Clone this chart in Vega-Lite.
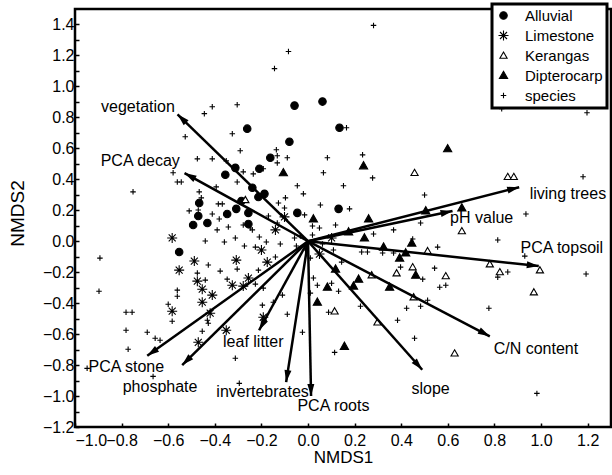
{
  "$schema": "https://vega.github.io/schema/vega-lite/v6.json",
  "width": 536,
  "height": 418,
  "autosize": {"type": "none"},
  "padding": {"left": 75, "top": 9, "right": 1, "bottom": 48},
  "config": {
    "view": {"stroke": "black", "strokeWidth": 2.5},
    "font": "Liberation Sans",
    "axis": {"domain": false, "grid": false, "tickColor": "black", "tickWidth": 1.5, "tickSize": -4, "labelFontSize": 16, "labelColor": "black", "titleFontSize": 17, "titleFontWeight": "normal", "titleColor": "black", "labelFont": "Liberation Sans", "titleFont": "Liberation Sans", "labelOverlap": false},
    "legend": {"orient": "none", "legendX": 417, "legendY": -5, "padding": 4, "strokeColor": "black", "strokeWidth": 3, "fillColor": "white", "labelFontSize": 15, "labelFont": "Liberation Sans", "labelColor": "black", "symbolStrokeColor": "black", "symbolStrokeWidth": 1.1, "rowPadding": 4, "labelOffset": 14, "symbolOpacity": 1, "symbolSize": 100}
  },
  "resolve": {"axis": {"y": "independent"}},
  "datasets": {
    "vec": [
      {"var": "vegetation", "x": -0.56, "y": 0.82, "lx": -0.73, "ly": 0.87},
      {"var": "PCA decay", "x": -0.53, "y": 0.44, "lx": -0.72, "ly": 0.52},
      {"var": "PCA stone", "x": -0.69, "y": -0.74, "lx": -0.78, "ly": -0.81},
      {"var": "phosphate", "x": -0.54, "y": -0.8, "lx": -0.635, "ly": -0.943},
      {"var": "leaf litter", "x": -0.21, "y": -0.575, "lx": -0.235, "ly": -0.651},
      {"var": "invertebrates", "x": -0.094, "y": -0.91, "lx": -0.195, "ly": -0.977},
      {"var": "PCA roots", "x": 0.013, "y": -1.0, "lx": 0.109, "ly": -1.066},
      {"var": "slope", "x": 0.49, "y": -0.83, "lx": 0.526, "ly": -0.957},
      {"var": "C/N content", "x": 0.78, "y": -0.614, "lx": 0.978, "ly": -0.693},
      {"var": "PCA topsoil", "x": 0.99, "y": -0.16, "lx": 1.089, "ly": -0.043},
      {"var": "living trees", "x": 0.906, "y": 0.349, "lx": 1.115, "ly": 0.308},
      {"var": "pH value", "x": 0.62, "y": 0.195, "lx": 0.745, "ly": 0.147}
    ],
    "pts": [
      {"t": "Alluvial", "x": -0.467, "y": 0.247}, {"t": "Alluvial", "x": -0.471, "y": 0.163}, {"t": "Alluvial", "x": -0.493, "y": 0.105}, {"t": "Alluvial", "x": -0.432, "y": 0.118}, {"t": "Alluvial", "x": -0.553, "y": -0.07}, {"t": "Alluvial", "x": -0.08, "y": 0.643}, {"t": "Alluvial", "x": -0.058, "y": 0.876}, {"t": "Alluvial", "x": 0.062, "y": 0.902}, {"t": "Alluvial", "x": -0.261, "y": 0.727}, {"t": "Alluvial", "x": 0.135, "y": 0.733}, {"t": "Alluvial", "x": -0.162, "y": 0.539}, {"t": "Alluvial", "x": -0.312, "y": 0.474}, {"t": "Alluvial", "x": -0.209, "y": 0.468}, {"t": "Alluvial", "x": -0.355, "y": 0.429}, {"t": "Alluvial", "x": -0.239, "y": 0.345}, {"t": "Alluvial", "x": -0.187, "y": 0.306}, {"t": "Alluvial", "x": -0.213, "y": 0.286}, {"t": "Alluvial", "x": -0.286, "y": 0.26}, {"t": "Alluvial", "x": -0.308, "y": 0.209}, {"t": "Alluvial", "x": -0.347, "y": 0.176}, {"t": "Alluvial", "x": -0.256, "y": 0.183}, {"t": "Alluvial", "x": -0.046, "y": 0.183}, {"t": "Alluvial", "x": -0.256, "y": 0.111}, {"t": "Alluvial", "x": 0.131, "y": 0.209},
      {"t": "Limestone", "x": -0.583, "y": 0.021}, {"t": "Limestone", "x": -0.488, "y": -0.128}, {"t": "Limestone", "x": -0.553, "y": -0.187}, {"t": "Limestone", "x": -0.475, "y": -0.258}, {"t": "Limestone", "x": -0.454, "y": -0.31}, {"t": "Limestone", "x": -0.454, "y": -0.394}, {"t": "Limestone", "x": -0.583, "y": -0.452}, {"t": "Limestone", "x": -0.471, "y": -0.653}, {"t": "Limestone", "x": -0.101, "y": 0.157}, {"t": "Limestone", "x": -0.14, "y": 0.073}, {"t": "Limestone", "x": -0.2, "y": -0.057}, {"t": "Limestone", "x": -0.308, "y": -0.122}, {"t": "Limestone", "x": -0.175, "y": -0.135}, {"t": "Limestone", "x": -0.256, "y": -0.238}, {"t": "Limestone", "x": -0.325, "y": -0.284}, {"t": "Limestone", "x": -0.278, "y": -0.29}, {"t": "Limestone", "x": -0.411, "y": -0.348}, {"t": "Limestone", "x": -0.42, "y": -0.465}, {"t": "Limestone", "x": -0.192, "y": -0.491}, {"t": "Limestone", "x": -0.351, "y": -0.575}, {"t": "Limestone", "x": 0.101, "y": 0.021}, {"t": "Limestone", "x": 0.049, "y": -0.083},
      {"t": "Kerangas", "x": -0.269, "y": 0.267}, {"t": "Kerangas", "x": 0.457, "y": 0.442}, {"t": "Kerangas", "x": 0.857, "y": 0.416}, {"t": "Kerangas", "x": 0.883, "y": 0.416}, {"t": "Kerangas", "x": 0.66, "y": 0.066}, {"t": "Kerangas", "x": 0.513, "y": -0.063}, {"t": "Kerangas", "x": 0.449, "y": -0.167}, {"t": "Kerangas", "x": 0.38, "y": -0.206}, {"t": "Kerangas", "x": 0.273, "y": -0.219}, {"t": "Kerangas", "x": 0.591, "y": -0.225}, {"t": "Kerangas", "x": 0.78, "y": -0.148}, {"t": "Kerangas", "x": 0.823, "y": -0.199}, {"t": "Kerangas", "x": 0.995, "y": -0.187}, {"t": "Kerangas", "x": 0.969, "y": -0.329}, {"t": "Kerangas", "x": 0.453, "y": -0.361}, {"t": "Kerangas", "x": 0.114, "y": -0.452}, {"t": "Kerangas", "x": 0.298, "y": -0.523}, {"t": "Kerangas", "x": 0.629, "y": -0.724},
      {"t": "Dipterocarp", "x": -0.106, "y": 0.442}, {"t": "Dipterocarp", "x": 0.238, "y": 0.487}, {"t": "Dipterocarp", "x": 0.023, "y": 0.144}, {"t": "Dipterocarp", "x": 0.26, "y": 0.144}, {"t": "Dipterocarp", "x": 0.599, "y": 0.597}, {"t": "Dipterocarp", "x": 0.66, "y": 0.215}, {"t": "Dipterocarp", "x": 0.505, "y": 0.196}, {"t": "Dipterocarp", "x": 0.174, "y": 0.06}, {"t": "Dipterocarp", "x": 0.242, "y": 0.021}, {"t": "Dipterocarp", "x": 0.445, "y": -0.012}, {"t": "Dipterocarp", "x": 0.419, "y": -0.076}, {"t": "Dipterocarp", "x": 0.324, "y": -0.038}, {"t": "Dipterocarp", "x": 0.393, "y": -0.109}, {"t": "Dipterocarp", "x": 0.462, "y": -0.219}, {"t": "Dipterocarp", "x": 0.118, "y": -0.18}, {"t": "Dipterocarp", "x": 0.217, "y": -0.245}, {"t": "Dipterocarp", "x": 0.195, "y": -0.29}, {"t": "Dipterocarp", "x": 0.35, "y": -0.297}, {"t": "Dipterocarp", "x": 0.083, "y": -0.297}, {"t": "Dipterocarp", "x": 0.04, "y": -0.394}, {"t": "Dipterocarp", "x": 0.156, "y": -0.679},
      {"t": "species", "x": 0.281, "y": 1.394}, {"t": "species", "x": -0.084, "y": 1.225}, {"t": "species", "x": -0.144, "y": 1.115}, {"t": "species", "x": -0.411, "y": 0.869}, {"t": "species", "x": -0.304, "y": 0.882}, {"t": "species", "x": -0.445, "y": 0.824}, {"t": "species", "x": 0.165, "y": 0.733}, {"t": "species", "x": -0.325, "y": 0.694}, {"t": "species", "x": -0.527, "y": 0.675}, {"t": "species", "x": -0.291, "y": 0.584}, {"t": "species", "x": -0.136, "y": 0.591}, {"t": "species", "x": -0.132, "y": 0.552}, {"t": "species", "x": -0.132, "y": 0.506}, {"t": "species", "x": -0.089, "y": 0.539}, {"t": "species", "x": -0.475, "y": 0.532}, {"t": "species", "x": -0.411, "y": 0.532}, {"t": "species", "x": -0.351, "y": 0.519}, {"t": "species", "x": 0.083, "y": 0.539}, {"t": "species", "x": 0.234, "y": 0.558}, {"t": "species", "x": -0.192, "y": 0.468}, {"t": "species", "x": -0.278, "y": 0.448}, {"t": "species", "x": -0.235, "y": 0.435}, {"t": "species", "x": -0.579, "y": 0.442}, {"t": "species", "x": -0.561, "y": 0.383}, {"t": "species", "x": -0.544, "y": 0.383}, {"t": "species", "x": -0.751, "y": 0.319}, {"t": "species", "x": -0.467, "y": 0.319}, {"t": "species", "x": -0.458, "y": 0.28}, {"t": "species", "x": -0.51, "y": 0.196}, {"t": "species", "x": -0.471, "y": 0.202}, {"t": "species", "x": -0.441, "y": 0.001}, {"t": "species", "x": 0.066, "y": 0.442}, {"t": "species", "x": 0.277, "y": 0.409}, {"t": "species", "x": -0.304, "y": 0.383}, {"t": "species", "x": -0.046, "y": 0.358}, {"t": "species", "x": -0.394, "y": 0.351}, {"t": "species", "x": 0.152, "y": 0.358}, {"t": "species", "x": -0.02, "y": 0.306}, {"t": "species", "x": -0.097, "y": 0.28}, {"t": "species", "x": -0.385, "y": 0.241}, {"t": "species", "x": -0.368, "y": 0.241}, {"t": "species", "x": -0.127, "y": 0.247}, {"t": "species", "x": -0.101, "y": 0.215}, {"t": "species", "x": 0.053, "y": 0.234}, {"t": "species", "x": 0.178, "y": 0.209}, {"t": "species", "x": -0.411, "y": 0.176}, {"t": "species", "x": -0.17, "y": 0.163}, {"t": "species", "x": -0.015, "y": 0.17}, {"t": "species", "x": -0.381, "y": 0.144}, {"t": "species", "x": -0.278, "y": 0.105}, {"t": "species", "x": -0.248, "y": 0.085}, {"t": "species", "x": -0.132, "y": 0.118}, {"t": "species", "x": -0.342, "y": 0.092}, {"t": "species", "x": -0.239, "y": 0.073}, {"t": "species", "x": 0.019, "y": 0.098}, {"t": "species", "x": -0.39, "y": 0.073}, {"t": "species", "x": -0.209, "y": 0.027}, {"t": "species", "x": -0.312, "y": 0.021}, {"t": "species", "x": -0.058, "y": 0.021}, {"t": "species", "x": -0.359, "y": -0.005}, {"t": "species", "x": -0.179, "y": -0.005}, {"t": "species", "x": -0.119, "y": -0.018}, {"t": "species", "x": -0.273, "y": -0.031}, {"t": "species", "x": -0.226, "y": -0.038}, {"t": "species", "x": 0.118, "y": 0.105}, {"t": "species", "x": 0.049, "y": 0.085}, {"t": "species", "x": 0.367, "y": 0.073}, {"t": "species", "x": 0.019, "y": 0.04}, {"t": "species", "x": 0.281, "y": 0.047}, {"t": "species", "x": 0.449, "y": 0.014}, {"t": "species", "x": 0.556, "y": -0.038}, {"t": "species", "x": 0.23, "y": -0.07}, {"t": "species", "x": 0.255, "y": -0.07}, {"t": "species", "x": 0.32, "y": -0.076}, {"t": "species", "x": 0.367, "y": -0.076}, {"t": "species", "x": 0.397, "y": -0.167}, {"t": "species", "x": 0.543, "y": -0.174}, {"t": "species", "x": 0.492, "y": -0.245}, {"t": "species", "x": 0.565, "y": -0.297}, {"t": "species", "x": 0.591, "y": -0.284}, {"t": "species", "x": 0.144, "y": -0.135}, {"t": "species", "x": 0.04, "y": -0.284}, {"t": "species", "x": 0.101, "y": -0.271}, {"t": "species", "x": 0.023, "y": -0.238}, {"t": "species", "x": 0.131, "y": -0.323}, {"t": "species", "x": 0.513, "y": -0.381}, {"t": "species", "x": 0.483, "y": -0.42}, {"t": "species", "x": 0.423, "y": -0.433}, {"t": "species", "x": 0.088, "y": -0.459}, {"t": "species", "x": 0.225, "y": -0.42}, {"t": "species", "x": 0.384, "y": -0.51}, {"t": "species", "x": 0.457, "y": -0.627}, {"t": "species", "x": 0.01, "y": -0.335}, {"t": "species", "x": 0.5, "y": 0.299}, {"t": "species", "x": 0.483, "y": 0.118}, {"t": "species", "x": 0.831, "y": 0.856}, {"t": "species", "x": 1.197, "y": 0.83}, {"t": "species", "x": 1.18, "y": 0.416}, {"t": "species", "x": 0.935, "y": 0.176}, {"t": "species", "x": 0.814, "y": 0.008}, {"t": "species", "x": 0.93, "y": -0.096}, {"t": "species", "x": 0.857, "y": -0.199}, {"t": "species", "x": 0.814, "y": -0.232}, {"t": "species", "x": 1.193, "y": -0.212}, {"t": "species", "x": 0.776, "y": -0.433}, {"t": "species", "x": 0.982, "y": -0.983}, {"t": "species", "x": -0.893, "y": -0.109}, {"t": "species", "x": -0.428, "y": -0.154}, {"t": "species", "x": -0.475, "y": -0.206}, {"t": "species", "x": -0.897, "y": -0.323}, {"t": "species", "x": -0.561, "y": -0.316}, {"t": "species", "x": -0.561, "y": -0.355}, {"t": "species", "x": -0.6, "y": -0.407}, {"t": "species", "x": -0.583, "y": -0.517}, {"t": "species", "x": -0.781, "y": -0.459}, {"t": "species", "x": -0.755, "y": -0.459}, {"t": "species", "x": -0.781, "y": -0.575}, {"t": "species", "x": -0.69, "y": -0.588}, {"t": "species", "x": -0.656, "y": -0.627}, {"t": "species", "x": -0.635, "y": -0.64}, {"t": "species", "x": -0.454, "y": -0.582}, {"t": "species", "x": -0.772, "y": -0.698}, {"t": "species", "x": -0.432, "y": -0.51}, {"t": "species", "x": -0.948, "y": -0.821}, {"t": "species", "x": -0.665, "y": -0.873}, {"t": "species", "x": -0.377, "y": -0.193}, {"t": "species", "x": -0.304, "y": -0.18}, {"t": "species", "x": -0.213, "y": -0.187}, {"t": "species", "x": -0.14, "y": -0.102}, {"t": "species", "x": -0.347, "y": -0.245}, {"t": "species", "x": -0.226, "y": -0.277}, {"t": "species", "x": -0.192, "y": -0.303}, {"t": "species", "x": -0.441, "y": -0.251}, {"t": "species", "x": -0.196, "y": -0.413}, {"t": "species", "x": -0.149, "y": -0.394}, {"t": "species", "x": -0.11, "y": -0.348}, {"t": "species", "x": -0.428, "y": -0.53}, {"t": "species", "x": -0.089, "y": -0.472}, {"t": "species", "x": -0.024, "y": -0.588}, {"t": "species", "x": -0.312, "y": -0.756}, {"t": "species", "x": -0.295, "y": -0.918}, {"t": "species", "x": 0.114, "y": -0.718}, {"t": "species", "x": 0.109, "y": -0.057}, {"t": "species", "x": -0.033, "y": 0.034}, {"t": "species", "x": -0.011, "y": -0.057}, {"t": "species", "x": -0.05, "y": -0.031}, {"t": "species", "x": 0.01, "y": -0.109}, {"t": "species", "x": 0.062, "y": -0.018}
    ]
  },
  "layer": [
    {
      "data": {"name": "pts"},
      "mark": {"type": "point", "opacity": 1, "strokeWidth": 1.1, "size": 100},
      "encoding": {
        "x": {"field": "x", "type": "quantitative", "title": "NMDS1", "scale": {"domain": [-1, 1.3], "nice": false, "zero": false},
          "axis": {"values": [-1.0, -0.9, -0.8, -0.7, -0.6, -0.5, -0.4, -0.3, -0.2, -0.1, 0, 0.1, 0.2, 0.3, 0.4, 0.5, 0.6, 0.7, 0.8, 0.9, 1.0, 1.1, 1.2], "format": ".1f", "labelExpr": "abs(round(datum.value*10))%2==0 ? datum.label : ''", "labelOverlap": false, "labelPadding": 9, "titleY": 30, "titleBaseline": "middle"}},
        "y": {"field": "y", "type": "quantitative", "title": "NMDS2", "scale": {"domain": [-1.2, 1.5], "nice": false, "zero": false},
          "axis": {"orient": "left", "values": [-1.2, -1.0, -0.8, -0.6, -0.4, -0.2, 0, 0.2, 0.4, 0.6, 0.8, 1.0, 1.2, 1.4], "format": ".1f", "labelOverlap": false, "labelFlush": false, "labelPadding": 5, "titleX": -58, "titleY": 204, "titleBaseline": "middle", "titleAngle": -90, "titleFontSize": 19}},
        "shape": {"field": "t", "type": "nominal", "scale": {"domain": ["Alluvial", "Limestone", "Kerangas", "Dipterocarp", "species"], "range": ["M0.75,0A0.75,0.75,0,1,1,-0.75,0A0.75,0.75,0,1,1,0.75,0Z", "M0,-1L0,1M-1,0L1,0M-0.7,-0.7L0.7,0.7M-0.7,0.7L0.7,-0.7", "M0,-0.7L0.72,0.55L-0.72,0.55Z", "M0,-0.85L0.82,0.6L-0.82,0.6Z", "M-0.55,0L0.55,0M0,-0.55L0,0.55"]}, "legend": {"title": null}},
        "fill": {"field": "t", "type": "nominal", "scale": {"domain": ["Alluvial", "Limestone", "Kerangas", "Dipterocarp", "species"], "range": ["black", "transparent", "white", "black", "transparent"]}, "legend": {"title": null}},
        "stroke": {"field": "t", "type": "nominal", "scale": {"domain": ["Alluvial", "Limestone", "Kerangas", "Dipterocarp", "species"], "range": ["black", "black", "black", "black", "black"]}, "legend": {"title": null}}
      }
    },
    {
      "data": {"name": "vec"},
      "mark": {"type": "rule", "strokeWidth": 2.5, "color": "black"},
      "encoding": {
        "x": {"field": "x", "type": "quantitative"},
        "y": {"field": "y", "type": "quantitative", "axis": {"orient": "left", "values": [-1.1, -0.9, -0.7, -0.5, -0.3, -0.1, 0.1, 0.3, 0.5, 0.7, 0.9, 1.1, 1.3], "labels": false, "title": null}},
        "x2": {"datum": 0},
        "y2": {"datum": 0}
      }
    },
    {
      "data": {"name": "vec"},
      "transform": [{"calculate": "atan2(datum.x*233.04, datum.y*154.8)*180/PI", "as": "ang"}],
      "mark": {"type": "point", "shape": "M0,0L-0.7,2.4L0.7,2.4Z", "filled": true, "color": "black", "opacity": 1, "size": 100},
      "encoding": {
        "x": {"field": "x", "type": "quantitative"},
        "y": {"field": "y", "type": "quantitative", "axis": null},
        "angle": {"field": "ang", "type": "quantitative", "scale": null}
      }
    },
    {
      "data": {"name": "vec"},
      "mark": {"type": "text", "fontSize": 16, "font": "Liberation Sans", "color": "black"},
      "encoding": {
        "x": {"field": "lx", "type": "quantitative"},
        "y": {"field": "ly", "type": "quantitative", "axis": null},
        "text": {"field": "var"}
      }
    }
  ]
}
